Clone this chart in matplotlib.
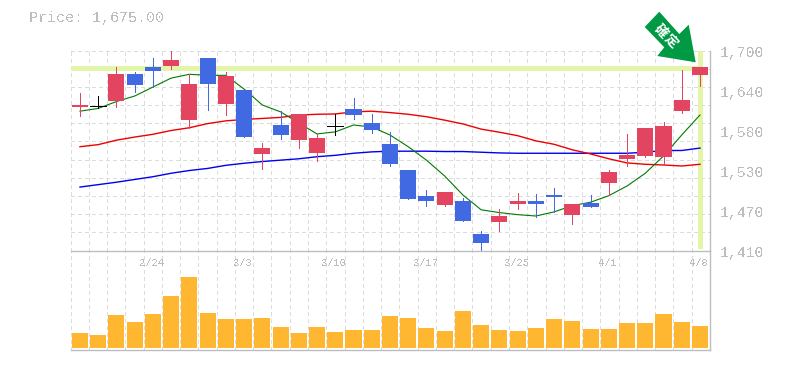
import matplotlib
matplotlib.use('Agg')
import numpy as np
import matplotlib.pyplot as plt
from matplotlib.patches import Polygon

W, H = 785, 370
plt.rcParams['font.family'] = ['Liberation Mono', 'Noto Sans CJK JP']
plt.rcParams['text.antialiased'] = False

dates = {4: '2/24', 9: '3/3', 14: '3/10', 19: '3/17', 24: '3/25', 29: '4/1', 34: '4/8'}
yticks = [1700, 1642, 1584, 1526, 1468, 1410]
ylabels = ['1,700', '1,640', '1,580', '1,530', '1,470', '1,410']
last_price = 1675

highs = [1638, 1634, 1676, 1669, 1689, 1699, 1666, 1689, 1669, 1643, 1566, 1612, 1608, 1579, 1608, 1631, 1608, 1582, 1527, 1498, 1495, 1486, 1438, 1470, 1493, 1492, 1501, 1477.5, 1490.5, 1527, 1579, 1588, 1596, 1672, 1676]
opens = [1618, 1620, 1627, 1666, 1676, 1678, 1599, 1689, 1622, 1643, 1550, 1592, 1570, 1551, 1590.5, 1615, 1595, 1564, 1527, 1489, 1476, 1482, 1434, 1451, 1477.5, 1482, 1490.5, 1461.5, 1479, 1508, 1543, 1547, 1546, 1612, 1664.5]
closes = [1621, 1620, 1666, 1650, 1670, 1686, 1651, 1651, 1663, 1575, 1559, 1577.5, 1608, 1573, 1590.5, 1606.5, 1585, 1535, 1485, 1482, 1495, 1453, 1421, 1460, 1482, 1477.5, 1488, 1477.5, 1473, 1524, 1548.5, 1588, 1590.5, 1628, 1676]
lows = [1605, 1617, 1618, 1640, 1647, 1673, 1588, 1614, 1606, 1575, 1528, 1572, 1559, 1540, 1577.5, 1601, 1580, 1532.5, 1485, 1475, 1475, 1453, 1409, 1438, 1470, 1459, 1466, 1448, 1473, 1490.5, 1532.5, 1546, 1534, 1609, 1648.5]
ma_short = [1612, 1616, 1626, 1634, 1647, 1660, 1665.5, 1664, 1664, 1644, 1621, 1611, 1595, 1579, 1582, 1592, 1589, 1577.5, 1560.5, 1541, 1518, 1490.5, 1469, 1465, 1462, 1460, 1466, 1475, 1480, 1489.5, 1503.5, 1522, 1547, 1577.5, 1606.5]
ma_mid = [1560.5, 1563.5, 1570, 1574.5, 1578.5, 1584, 1588, 1594, 1598, 1600, 1601.5, 1603, 1606.5, 1607.5, 1608, 1611, 1612, 1610, 1607.5, 1604, 1599, 1593.5, 1586, 1581.5, 1576.5, 1569, 1564, 1556, 1550, 1543, 1537, 1535, 1534, 1532.5, 1535]
ma_long = [1502, 1505.5, 1509, 1513, 1517, 1522, 1526, 1529, 1533.5, 1536.5, 1539, 1541, 1543, 1546, 1548, 1551, 1553, 1554, 1554, 1554, 1553.5, 1553.5, 1552.5, 1551.5, 1551, 1551, 1551, 1551, 1551, 1551, 1551, 1552.5, 1555, 1555, 1558.5]
volume = [15, 13, 33, 26, 34, 52, 71, 35, 29, 29, 30, 21, 15, 21, 16, 18, 18, 32, 30, 20, 17, 37, 23, 18, 17, 20, 29, 27, 19, 19, 25, 25, 34, 26, 22]

RED = '#e34460'
BLUE = '#4169e1'
GREY = '#bdbdbd'
GRID = '#dcdcdc'
LIME = '#e3f5a8'

fig = plt.figure(figsize=(W / 100, H / 100), dpi=100)
L, R = 70.5, 710.0
ax = fig.add_axes([L / W, 1 - 250.5 / H, (R - L) / W, 200 / H])
axv = fig.add_axes([L / W, 1 - 350.3 / H, (R - L) / W, 99.8 / H])

xlim = (-0.52, 34.55)
grid_x = np.linspace(xlim[0], xlim[1], 36)
x = np.arange(len(opens))

ax.set_xlim(xlim)
ax.set_ylim(1410, 1700)
axv.set_xlim(xlim)
axv.set_ylim(-1.9, 97.9)

for a in (ax, axv):
    for gx in grid_x[:-1]:
        a.axvline(gx, color=GRID, lw=0.72, ls=(0, (4, 4)), zorder=0, antialiased=False)
for gy in np.linspace(1410, 1700, 12)[1:]:
    ax.axhline(gy, color=GRID, lw=0.72, ls=(0, (4, 4)), zorder=0, antialiased=False)

ax.plot([xlim[0], 34], [last_price, last_price], color=LIME, lw=2.2, zorder=1, solid_capstyle='butt', antialiased=False)
ax.plot([34, 34], [1413, 1700], color=LIME, lw=2.2, zorder=1, solid_capstyle='butt', antialiased=False)

ax.plot(x, ma_long, color='#0000ee', lw=1.0, zorder=2)
ax.plot(x, ma_mid, color='#ee0000', lw=1.0, zorder=2)
ax.plot(x, ma_short, color='#007a00', lw=0.8, zorder=2)

for i in x:
    if closes[i] > opens[i]:
        c = RED
    elif closes[i] < opens[i]:
        c = BLUE
    else:
        c = 'black'
    ax.plot([i, i], [lows[i], highs[i]], color=c, lw=0.72, zorder=3, solid_capstyle='butt', antialiased=False, clip_on=False)
    if opens[i] == closes[i]:
        ax.plot([i - 0.44, i + 0.44], [opens[i], opens[i]], color=c, lw=0.72, zorder=3, antialiased=False)
    else:
        ax.bar(i, abs(closes[i] - opens[i]), bottom=min(opens[i], closes[i]), width=0.88, color=c, lw=0, zorder=4)

axv.bar(x, volume, width=0.88, color='#ffb732', lw=0, zorder=2)

for a in (ax, axv):
    a.set_xticks([])
    a.set_yticks([])
    for s in a.spines.values():
        s.set_visible(False)
    a.patch.set_alpha(0)

ax.spines['right'].set_visible(True)
ax.spines['right'].set_color(GREY)
ax.spines['right'].set_linewidth(1.0)
for s in ('top', 'bottom', 'right'):
    axv.spines[s].set_visible(True)
    axv.spines[s].set_color(GREY)
    axv.spines[s].set_linewidth(1.0)

for tick, lab in zip(yticks, ylabels):
    ax.annotate(lab, (1, tick), xycoords=('axes fraction', 'data'), xytext=(10, -2.5), textcoords='offset pixels',
                color=GREY, fontsize=10.6, va='center', ha='left')
for i, lab in dates.items():
    axv.annotate(lab, (i, 1), xycoords=('data', 'axes fraction'), xytext=(-1, -12), textcoords='offset pixels',
                 color=GREY, fontsize=7.6, va='center', ha='center')

fig.text(29 / W, 1 - 18 / H, 'Price: 1,675.00', color=GREY, fontsize=10.8, va='center', ha='left')

# arrow marker over the last candle, in figure pixels
arrow = [(659.3, 11.7), (644.7, 27), (664.3, 47.3), (657.3, 56), (695.7, 62.3), (688.7, 24.7), (679.3, 34)]
fig.add_artist(Polygon([(px / W, 1 - py / H) for px, py in arrow], closed=True, transform=fig.transFigure,
                       color='#009944', lw=0, zorder=6))
fig.text(661 / W, 1 - 31 / H, '確', color='white', fontsize=9.5, fontweight='bold', rotation=-45, antialiased=True,
         ha='center', va='center', zorder=7, family=['Noto Sans CJK JP'])
fig.text(671.5 / W, 1 - 41 / H, '定', color='white', fontsize=9.5, fontweight='bold', rotation=-45, antialiased=True,
         ha='center', va='center', zorder=7, family=['Noto Sans CJK JP'])

fig.savefig('out.png', dpi=100)
